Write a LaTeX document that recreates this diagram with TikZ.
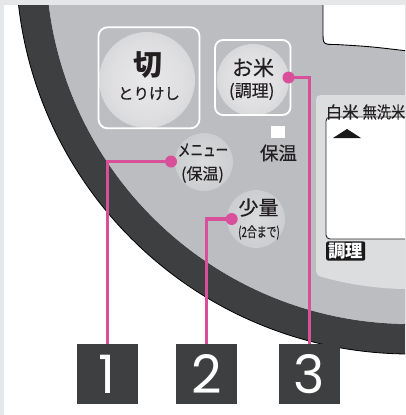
\documentclass[tikz,border=0pt]{standalone}
\usepackage{fontspec}
\newfontfamily\jp[FakeBold=0.35]{Noto Sans CJK JP}
\newfontfamily\jpb{Noto Sans CJK JP}
\newfontfamily\digitf{Poppins}
\definecolor{ringdark}{HTML}{3E3F41}
\definecolor{panelgray}{HTML}{BCBDC0}
\definecolor{lightpanel}{HTML}{DCDDDF}
\definecolor{framegray}{HTML}{E6E7E8}
\definecolor{glowc}{HTML}{E9E9EB}
\definecolor{glowd}{HTML}{DADBDD}
\definecolor{pinkc}{HTML}{D9509A}
\definecolor{txt}{HTML}{231F20}
\pgfdeclareradialshading{glow}{\pgfpoint{0bp}{0bp}}{color(0bp)=(glowc); color(20bp)=(glowc!75!panelgray); color(50bp)=(panelgray)}
\pgfdeclareradialshading{softglow}{\pgfpoint{0bp}{0bp}}{color(0bp)=(glowd); color(22bp)=(glowd!60!panelgray); color(50bp)=(panelgray)}
\tikzset{
  jptext/.style={inner sep=0pt, text=txt},
  btn/.style={draw=white, line width=1.8pt, rounded corners=9pt, inner sep=0pt},
  pinkdot/.style={circle, fill=pinkc, minimum size=12pt, inner sep=0pt},
  pinkline/.style={draw=pinkc, line width=3.6pt},
  numbox/.style={fill=ringdark, minimum size=60.5pt, inner sep=0pt, text=white,
     font=\digitf\fontsize{53}{53}\selectfont},
}
\begin{document}
\begin{tikzpicture}[x=1pt,y=-1pt]
\useasboundingbox (0,0) rectangle (405,415);
\fill[white] (0,0) rectangle (405,415);
\begin{scope}
\clip (0,0) rectangle (405,415);
% ring and panel
\fill[ringdark, draw=black, line width=0.8pt] (410,-40) circle[radius=394];
\fill[panelgray, draw=black!80, line width=0.6pt] (410,-40) circle[radius=364.5];
% light display panel
\fill[lightpanel] (420,95) -- (326,95) .. controls (316,95) .. (316,105) -- (316,266)
  .. controls (316,275.6) .. (328.2,278.7) arc[start angle=104.4, end angle=80, radius=329] -- cycle;
% top display window
\fill[white] (323,-2) -- (323,32) .. controls (323,44.5) .. (336,44.5) .. controls (370,46.5) .. (412,51.5) -- (412,-2) -- cycle;
\draw[black, line width=0.9pt] (323,-2) -- (323,32) .. controls (323,44.5) .. (336,44.5) .. controls (370,46.5) .. (412,51.5);
% display box
\draw[fill=white, draw=black!85, line width=0.9pt, rounded corners=4pt] (326,117) rectangle (420,239);
\fill[black!90] (333,138) -- (347,129) -- (361,138) -- cycle;
\node[jptext, anchor=west, font=\jp\fontsize{16.5}{16.5}\selectfont] (rice) at (325.5,112) {白米\hspace{4pt}\scalebox{0.86}[1]{無洗米}};
\node[fill=black!90, text=white, rounded corners=2pt, inner xsep=2pt, inner ysep=1.5pt, anchor=west,
  font=\jpb\bfseries\fontsize{17.5}{17.5}\selectfont] (chouri) at (326,251) {調理};
% glows
\shade[shading=glow] (147,80) circle[radius=48];
\shade[shading=glow] (253,80) circle[radius=36];
\shade[shading=softglow] (204,162) circle[radius=29];
\shade[shading=softglow] (256,219) circle[radius=29];
% buttons
\node[btn, minimum width=101pt, minimum height=101pt] (kiri) at (149,77.8) {};
\node[btn, minimum width=75.5pt, minimum height=75pt, rounded corners=8pt] (okome) at (252.8,77.5) {};
\node[fill=white, minimum width=14pt, minimum height=12pt, inner sep=0pt] (sq) at (278,132) {};
% labels
\node[jptext, font=\jpb\bfseries\fontsize{29}{29}\selectfont] (t1) at (148,65) {切};
\node[jptext, font=\jp\fontsize{15.5}{15.5}\selectfont] (t2) at (149,93.5) {とりけし};
\node[jptext, font=\jp\fontsize{21}{21}\selectfont] (t3) at (253,67.5) {お米};
\node[jptext, font=\jp\fontsize{17}{17}\selectfont] (t4) at (251.7,91.5) {(調理)};
\node[jptext, font=\jp\fontsize{18.5}{18.5}\selectfont] (t5) at (278.5,153) {保温};
\node[jptext, font=\jp\fontsize{17}{17}\selectfont] (t6) at (203,150) {\scalebox{0.74}[1]{メニュー}};
\node[jptext, font=\jp\fontsize{16}{16}\selectfont] (t7) at (202.5,174.5) {(保温)};
\node[jptext, font=\jp\fontsize{20}{20}\selectfont] (t8) at (258.5,207.5) {少量};
\node[jptext, font=\jp\fontsize{14}{14}\selectfont] (t9) at (259,232.5) {\scalebox{0.7}[1]{(2合まで)}};
% number boxes
\node[numbox] (b1) at (107.3,374.2) {1};
\node[numbox] (b2) at (206.4,374.2) {2};
\node[numbox] (b3) at (309.5,374.2) {3};
% pink dots and lines
\node[pinkdot] (d1) at (171,161.5) {};
\node[pinkdot] (d2) at (231.7,219) {};
\node[pinkdot] (d3) at (288.5,77.5) {};
\draw[pinkline] (d1.center) -| (b1.north);
\draw[pinkline] (d2.center) -| (b2.north);
\draw[pinkline] (d3.center) -| (b3.north);
\end{scope}
% frame strips
\fill[framegray] (0,0) rectangle (405,5);
\fill[framegray] (0,0) rectangle (4,415);
\end{tikzpicture}
\end{document}
